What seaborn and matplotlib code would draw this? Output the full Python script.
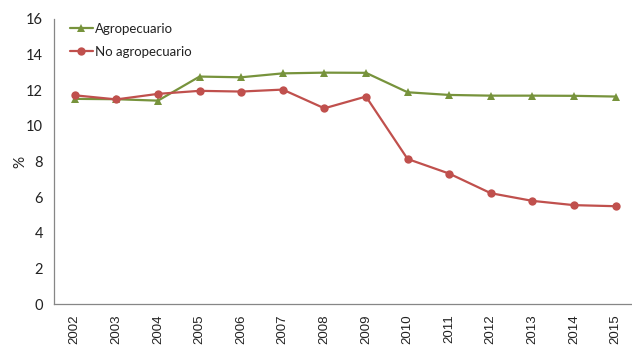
import numpy as np
import pandas as pd
import matplotlib
matplotlib.use("Agg")
import matplotlib.pyplot as plt
import seaborn as sns

years = ["2002", "2003", "2004", "2005", "2006", "2007", "2008",
         "2009", "2010", "2011", "2012", "2013", "2014", "2015"]
agropecuario = [11.52, 11.50, 11.42, 12.77, 12.73, 12.95, 12.99,
                12.98, 11.89, 11.74, 11.70, 11.70, 11.69, 11.65]
no_agropecuario = [11.72, 11.49, 11.80, 11.97, 11.93, 12.04, 10.99,
                   11.65, 8.15, 7.33, 6.23, 5.80, 5.56, 5.50]
series_names = ["Agropecuario", "No agropecuario"]
y_ticks = [0, 2, 4, 6, 8, 10, 12, 14, 16]

sns.set_style("white")
plt.rcParams["font.family"] = ["Lato", "DejaVu Sans"]

df = pd.DataFrame({
    "pos": list(range(len(years))) * 2,
    "valor": agropecuario + no_agropecuario,
    "serie": [series_names[0]] * len(years) + [series_names[1]] * len(years),
})

fig = plt.figure(figsize=(6.32, 3.45), dpi=100)
ax = fig.add_axes([0.0854, 0.118, 0.9215, 0.827])

palette = {"Agropecuario": "#77933C", "No agropecuario": "#C0504D"}
markers = {"Agropecuario": "^", "No agropecuario": "o"}
sns.lineplot(data=df, x="pos", y="valor", hue="serie", style="serie",
             palette=palette, markers=markers, dashes=False,
             markersize=6, markeredgewidth=0, linewidth=1.6, ax=ax)

ax.set_xlim(-0.5, len(years) - 0.5)
ax.set_ylim(0, 16)
ax.set_yticks(y_ticks)
ax.set_yticklabels([str(t) for t in y_ticks], fontsize=10.5, color="#222222")

# category labels centred, tick marks between categories
ax.set_xticks(range(len(years)))
ax.set_xticklabels(years, rotation=90, fontsize=9.5, color="#222222",
                   family=["Liberation Sans", "DejaVu Sans"])
ax.set_xticks(np.arange(-0.5, len(years) - 0.5 + 0.01, 1), minor=True)
ax.tick_params(axis="x", which="major", length=0, pad=7)
ax.tick_params(axis="x", which="minor", length=4, color="#868686", width=0.8)
ax.tick_params(axis="y", length=4, color="#868686", width=0.8, pad=4)

for side in ["top", "right"]:
    ax.spines[side].set_visible(False)
for side in ["left", "bottom"]:
    ax.spines[side].set_color("#868686")
    ax.spines[side].set_linewidth(0.9)

ax.set_xlabel("")
ax.set_ylabel("%", fontsize=11, color="#222222")
ax.yaxis.set_label_coords(-0.045, 0.5)

leg = ax.legend(loc="upper left", bbox_to_anchor=(0.012, 1.02), frameon=False,
                fontsize=9.5, handlelength=1.7, handletextpad=0.2,
                labelspacing=0.85, borderaxespad=0.3)
for t in leg.get_texts():
    t.set_color("#222222")

fig.savefig("out.png", dpi=100)
